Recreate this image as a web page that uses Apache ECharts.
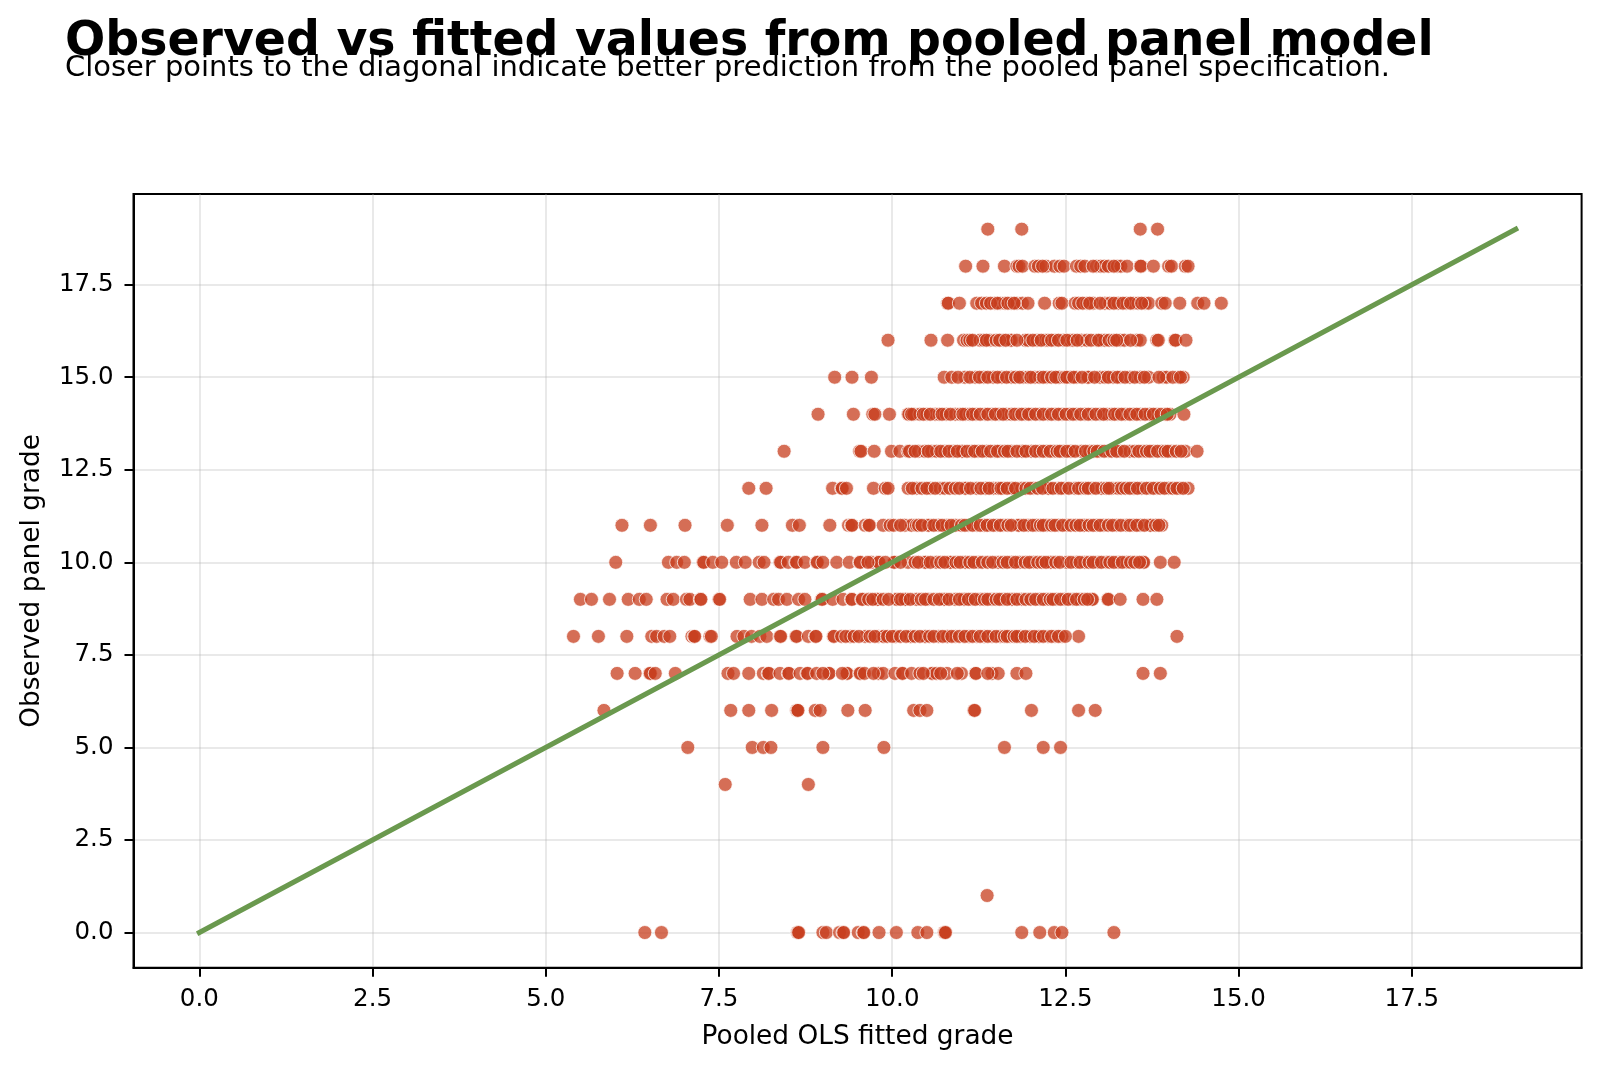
<!DOCTYPE html>
<html>
<head>
<meta charset="utf-8">
<title>Observed vs fitted values</title>
<script src="https://cdn.jsdelivr.net/npm/echarts@6/dist/echarts.min.js"></script>
<style>html,body{margin:0;padding:0;background:#fff}#chart{width:1600px;height:1068px}</style>
</head>
<body>
<div id="chart"></div>
<script>
// Fitted grades of the students at each observed panel grade.
const grade0 = [6.43,6.67,8.63,8.64,8.65,9.0,9.05,9.24,9.29,9.30,9.51,9.58,9.59,9.81,10.06,10.37,10.50,10.75,10.76,10.77,11.87,12.13,12.34,12.45,13.2];
const grade1 = [11.37];
const grade4 = [7.59,8.79];
const grade5 = [7.05,7.98,8.14,8.25,9.0,9.88,11.62,12.18,12.43];
const grade6 = [5.84,7.67,7.93,8.26,8.62,8.63,8.64,8.89,8.96,9.36,9.61,10.31,10.40,10.50,11.18,11.19,12.01,12.69,12.93];
const grade7 = [6.03,6.29,6.50,6.51,6.58,6.87,7.63,7.71,7.93,8.14,8.21,8.22,8.38,8.50,8.51,8.67,8.77,8.78,8.91,9.08,9.09,9.34,9.35,9.53,9.54,9.80,9.87,10.04,10.14,10.15,10.28,10.40,10.57,10.58,10.64,10.79,11.0,11.2,11.21,11.44,11.53,11.80,11.93,13.62,13.87,
  9.0,9.28,9.60,9.73,10.45,10.70,10.94,11.38];
const grade8 = [5.40,5.76,6.17,6.53,6.60,6.71,6.79,7.11,7.14,7.15,7.37,7.39,7.76,7.86,7.97,8.09,8.19,8.38,8.39,8.61,8.62,8.79,8.89,8.90,9.15,9.16,9.27,9.39,9.40,9.61,9.80,9.87,9.88,10.04,10.05,10.26,10.27,10.47,10.48,10.67,10.79,10.80,10.91,11.03,11.10,11.11,11.22,11.32,11.33,11.44,11.56,11.70,11.84,11.85,11.99,12.11,12.12,12.25,12.35,12.45,12.69,14.11,
  9.33,9.45,9.52,9.68,9.75,9.93,10.0,10.12,10.20,10.33,10.40,10.54,10.60,10.73,10.86,10.97,11.05,11.16,11.27,11.38,11.50,11.62,11.66,11.76,11.80,11.92,12.05,12.18,12.30,12.40,12.50];
const grade9 = [5.50,5.66,5.92,6.19,6.35,6.45,6.75,6.84,7.03,7.08,7.23,7.24,7.50,7.51,7.95,8.12,8.29,8.36,8.48,8.65,8.74,8.98,8.99,9.14,9.29,9.41,9.42,9.56,9.57,9.78,9.79,10.06,10.07,10.18,10.19,10.35,10.52,10.74,10.75,10.91,11.03,11.04,11.15,11.27,11.44,11.60,11.72,11.73,11.87,12.13,12.23,12.37,12.49,12.61,12.71,12.88,12.89,13.11,13.12,13.29,13.62,13.82,
  9.66,9.72,9.87,9.95,10.12,10.26,10.42,10.48,10.60,10.68,10.82,10.97,11.10,11.20,11.33,11.38,11.50,11.55,11.66,11.80,11.93,12.0,12.07,12.18,12.28,12.32,12.43,12.54,12.66,12.77,12.82];
const grade10 = [6.01,6.77,6.89,7.0,7.27,7.28,7.41,7.54,7.75,7.88,8.08,8.15,8.38,8.39,8.50,8.61,8.62,8.74,8.91,8.92,9.0,9.20,9.38,9.53,9.54,9.70,9.80,9.81,10.02,10.03,10.23,10.47,10.48,10.64,10.83,10.84,11.05,11.06,11.24,11.53,11.72,11.84,12.04,12.28,12.29,12.52,12.66,12.78,12.97,13.09,13.26,13.38,13.62,13.63,13.87,14.07,
  9.65,9.90,10.12,10.33,10.38,10.55,10.70,10.76,10.92,10.98,11.12,11.18,11.30,11.38,11.45,11.60,11.66,11.78,11.92,11.98,12.10,12.16,12.22,12.36,12.42,12.58,12.71,12.84,12.90,13.02,13.14,13.20,13.32,13.44,13.50,13.57];
const grade11 = [6.10,6.51,7.01,7.62,8.12,8.56,8.66,9.10,9.37,9.41,9.42,9.61,9.66,9.67,9.87,9.97,10.02,10.18,10.28,10.35,10.38,10.52,10.53,10.67,10.79,10.91,11.10,11.22,11.32,11.33,11.41,11.51,11.60,11.82,11.83,11.96,12.08,12.23,12.40,12.52,12.76,12.77,12.95,13.05,13.24,13.38,13.48,13.58,13.72,13.73,13.89,
  10.12,10.43,10.60,10.72,10.85,11.0,11.05,11.16,11.27,11.37,11.46,11.56,11.67,11.72,11.90,12.03,12.14,12.18,12.30,12.35,12.46,12.58,12.65,12.71,12.84,12.90,13.0,13.12,13.18,13.30,13.43,13.53,13.64,13.80,13.85];
const grade12 = [7.93,8.18,9.14,9.27,9.28,9.34,9.73,9.90,9.94,10.23,10.35,10.55,10.69,10.76,10.83,10.91,11.05,11.06,11.22,11.34,11.35,11.46,11.53,11.60,11.72,11.73,11.87,12.04,12.25,12.26,12.40,12.49,12.64,12.73,12.88,13.02,13.17,13.26,13.48,13.49,13.6,13.72,13.82,13.99,14.15,14.27,
  10.29,10.43,10.50,10.62,10.97,11.13,11.28,11.40,11.57,11.66,11.78,11.93,11.99,12.10,12.17,12.32,12.44,12.55,12.69,12.79,12.83,12.94,13.09,13.13,13.31,13.37,13.43,13.54,13.67,13.77,13.87,13.93,14.05,14.11,14.20];
const grade13 = [8.44,9.53,9.55,9.74,9.99,10.11,10.23,10.25,10.38,10.47,10.57,10.64,10.76,10.88,11.0,11.01,11.15,11.24,11.36,11.48,11.56,11.72,11.87,11.88,12.01,12.13,12.23,12.33,12.47,12.57,12.58,12.73,12.85,13.0,13.12,13.29,13.43,13.50,13.62,13.77,13.89,14.03,14.23,14.40,
  10.33,10.52,10.70,10.82,10.94,11.08,11.19,11.30,11.42,11.52,11.62,11.67,11.80,11.93,12.07,12.18,12.28,12.38,12.42,12.52,12.64,12.79,12.91,12.96,13.06,13.17,13.24,13.35,13.56,13.67,13.72,13.83,13.94,13.98,14.10,14.17];
const grade14 = [8.93,9.44,9.72,9.75,9.96,10.23,10.24,10.31,10.40,10.50,10.62,10.68,10.78,10.91,10.98,11.06,11.12,11.21,11.34,11.44,11.54,11.65,11.72,11.83,11.92,12.01,12.13,12.25,12.35,12.45,12.56,12.66,12.78,12.88,13.0,13.1,13.17,13.26,13.36,13.48,13.58,13.71,13.72,13.82,13.94,14.01,14.21,
  10.28,10.45,10.55,10.72,10.84,11.02,11.16,11.27,11.38,11.49,11.60,11.77,11.87,11.97,12.07,12.18,12.30,12.40,12.51,12.61,12.72,12.83,12.94,13.05,13.21,13.31,13.43,13.53,13.65,13.77,13.88,13.97];
const grade15 = [9.17,9.42,9.70,10.75,10.86,11.05,11.20,11.32,11.46,11.58,11.72,11.89,11.96,12.06,12.13,12.23,12.40,12.41,12.57,12.66,12.82,12.83,13.0,13.07,13.19,13.29,13.43,13.58,13.70,13.91,13.96,14.13,14.20,
  10.95,11.12,11.26,11.38,11.52,11.65,11.78,11.84,12.0,12.18,12.30,12.36,12.49,12.52,12.62,12.74,12.92,13.12,13.25,13.36,13.50,13.64,13.85,14.05,14.16];
const grade16 = [9.94,10.56,10.80,11.03,11.08,11.12,11.27,11.32,11.41,11.60,11.70,11.72,11.92,11.96,12.09,12.21,12.25,12.35,12.47,12.57,12.61,12.73,12.81,12.95,13.02,13.07,13.29,13.35,13.53,13.58,13.82,13.84,14.08,14.09,14.24,
  11.16,11.36,11.50,11.55,11.64,11.80,12.03,12.15,12.30,12.40,12.52,12.67,12.87,12.98,13.13,13.20,13.24,13.44];
const grade17 = [10.80,10.81,10.97,11.22,11.29,11.36,11.48,11.56,11.63,11.72,11.80,11.88,11.96,12.20,12.41,12.45,12.64,12.69,12.81,12.90,13.07,13.14,13.26,13.38,13.48,13.55,13.65,13.70,13.89,13.94,14.15,14.41,14.50,14.75,
  11.42,11.52,11.67,11.76,12.75,12.85,13.0,13.2,13.33,13.44,13.60];
const grade18 = [11.06,11.31,11.62,11.80,11.83,11.88,12.06,12.11,12.22,12.34,12.42,12.48,12.66,12.72,12.78,12.95,13.01,13.06,13.12,13.25,13.30,13.39,13.58,13.59,13.77,13.99,14.03,14.23,14.27,
  12.17,12.9,13.2];
const grade19 = [11.38,11.87,13.58,13.83];

const observedGrades = [0,1,4,5,6,7,8,9,10,11,12,13,14,15,16,17,18,19];
const fittedByGrade = [grade0,grade1,grade4,grade5,grade6,grade7,grade8,grade9,grade10,grade11,grade12,grade13,grade14,grade15,grade16,grade17,grade18,grade19];
const diagonal = [[0,0],[19,19]];
const tickValues = [0,2.5,5,7.5,10,12.5,15,17.5];

const points = [];
observedGrades.forEach((g, i) => fittedByGrade[i].forEach(f => points.push([f, g])));

const axisBase = {
  type: 'value', min: -0.95, max: 19.95,
  nameLocation: 'middle',
  nameTextStyle: {fontFamily: 'DejaVu Sans', fontSize: 26.4, color: '#000'},
  axisLine: {show: true, onZero: false, lineStyle: {color: '#000', width: 2}},
  axisTick: {show: true, length: 9, lineStyle: {color: '#000', width: 2}, customValues: tickValues},
  axisLabel: {show: true, fontFamily: 'DejaVu Sans', fontSize: 24.5, color: '#000', customValues: tickValues,
    formatter: v => Number(v).toFixed(1)},
  splitLine: {show: true, lineStyle: {color: '#b0b0b0', width: 2, opacity: 0.28}}
};

const chart = echarts.init(document.getElementById('chart'), null, {renderer: 'canvas'});
chart.setOption({
  animation: false,
  backgroundColor: '#fff',
  title: [
    {text: 'Observed vs fitted values from pooled panel model', left: 60, top: 14,
     textStyle: {fontFamily: 'DejaVu Sans', fontWeight: 'bold', fontSize: 47.4, color: '#000'}},
    {text: 'Closer points to the diagonal indicate better prediction from the pooled panel specification.', left: 60, top: 48.6,
     textStyle: {fontFamily: 'DejaVu Sans', fontWeight: 'normal', fontSize: 28.95, color: '#000'}}
  ],
  grid: {left: 133.5, top: 194, right: 18.4, bottom: 100.3, show: true, borderColor: '#000', borderWidth: 2, backgroundColor: '#fff'},
  xAxis: Object.assign({}, axisBase, {name: 'Pooled OLS fitted grade', nameGap: 56, axisLabel: Object.assign({}, axisBase.axisLabel, {margin: 19})}),
  yAxis: Object.assign({}, axisBase, {name: 'Observed panel grade', nameGap: 88, axisLabel: Object.assign({}, axisBase.axisLabel, {margin: 20, padding: [2, 0, 0, 0]})}),
  series: [
    {type: 'scatter', data: points, symbol: 'circle', symbolSize: 14, silent: true, z: 3,
     itemStyle: {color: '#C73E1D', opacity: 0.75, borderColor: '#fff', borderWidth: 1}},
    {type: 'line', data: diagonal, showSymbol: false, silent: true, z: 4,
     lineStyle: {color: '#6A994E', width: 5, cap: 'square'}}
  ]
});
</script>
</body>
</html>
